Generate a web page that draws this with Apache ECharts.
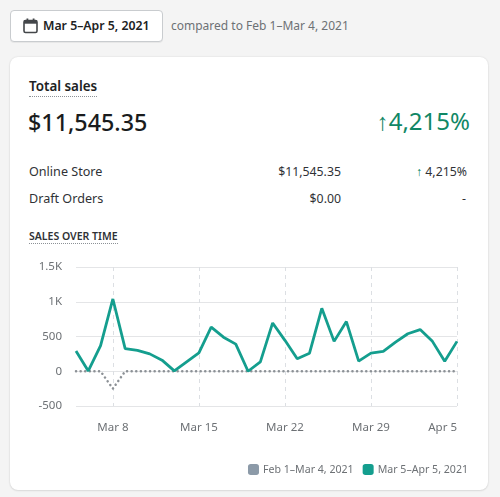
<!DOCTYPE html>
<html>
<head>
<meta charset="utf-8">
<script src="https://cdn.jsdelivr.net/npm/echarts@6/dist/echarts.min.js"></script>
<style>
  html,body{margin:0;padding:0;}
  body{width:500px;height:497px;background:#f4f4f4;font-family:"Noto Sans","Open Sans",sans-serif;position:relative;overflow:hidden;color:#202223;}
  .btn{position:absolute;left:10px;top:10px;width:151px;height:30px;background:#fff;border:1px solid #c9cccf;border-radius:4px;box-shadow:0 1px 0 rgba(0,0,0,0.05);}
  .btn .txt{position:absolute;left:32px;top:6px;font-size:12.3px;font-weight:600;color:#202223;}
  .cmp{position:absolute;left:171px;top:17px;font-size:12px;color:#6d7175;}
  .card{position:absolute;left:10px;top:57px;width:478px;height:433px;background:#fff;border-radius:8px;box-shadow:0 0 2px rgba(0,0,0,0.12),0 1px 2px rgba(0,0,0,0.08);}
  .abs{position:absolute;white-space:nowrap;}
  .ul{border-bottom:1px dotted #8c9196;}
</style>
</head>
<body>
<div class="btn">
  <svg class="abs" style="left:12px;top:7px" width="15" height="16" viewBox="0 0 15 16">
    <rect x="1" y="2.5" width="13" height="12" rx="1.5" fill="none" stroke="#44474a" stroke-width="1.6"/>
    <rect x="1" y="2.5" width="13" height="3.2" fill="#44474a"/>
    <rect x="3.5" y="0.5" width="1.8" height="3" fill="#44474a"/>
    <rect x="9.7" y="0.5" width="1.8" height="3" fill="#44474a"/>
  </svg>
  <div class="txt abs">Mar 5–Apr 5, 2021</div>
</div>
<div class="cmp abs">compared to Feb 1–Mar 4, 2021</div>
<div class="card"></div>
<div class="abs ul" style="left:29px;top:77px;font-size:13.4px;font-weight:600;line-height:18px;padding-bottom:1px;">Total sales</div>
<div class="abs" style="left:28px;top:105px;font-size:23.3px;font-weight:500;line-height:34px;color:#1a1c1d;">$11,545.35</div>
<div class="abs" style="right:30px;top:104px;font-size:24px;line-height:34px;color:#108765;">↑4,215%</div>
<div class="abs" style="left:29px;top:163px;font-size:12.6px;color:#303236;">Online Store</div>
<div class="abs" style="right:159px;top:163px;font-size:12.3px;color:#303236;">$11,545.35</div>
<div class="abs" style="right:33px;top:163px;font-size:12.3px;color:#303236;"><span style="color:#108765">↑</span> 4,215%</div>
<div class="abs" style="left:29px;top:190px;font-size:12.6px;color:#303236;">Draft Orders</div>
<div class="abs" style="right:159px;top:190px;font-size:12.3px;color:#303236;">$0.00</div>
<div class="abs" style="right:34px;top:190px;font-size:12.3px;color:#303236;">-</div>
<div class="abs ul" style="left:29px;top:229px;font-size:10.5px;font-weight:600;line-height:14px;color:#303236;">SALES OVER TIME</div>
<div id="chart" style="position:absolute;left:0;top:0;width:500px;height:497px;"></div>
<script>
const categories = ["Mar 5","Mar 6","Mar 7","Mar 8","Mar 9","Mar 10","Mar 11","Mar 12","Mar 13","Mar 14","Mar 15","Mar 16","Mar 17","Mar 18","Mar 19","Mar 20","Mar 21","Mar 22","Mar 23","Mar 24","Mar 25","Mar 26","Mar 27","Mar 28","Mar 29","Mar 30","Mar 31","Apr 1","Apr 2","Apr 3","Apr 4","Apr 5"];
const currentSales = [290,5,370,1040,325,300,250,160,5,135,265,635,490,390,0,135,695,445,180,260,905,430,715,145,260,285,420,540,600,430,145,430];
const previousSales = [0,0,0,-250,0,0,0,0,0,0,0,0,0,0,0,0,0,0,0,0,0,0,0,0,0,0,0,0,0,0,0,0];
const yTickLabels = {"-500":"-500","0":"0","500":"500","1000":"1K","1500":"1.5K"};
const seriesNames = ["Feb 1–Mar 4, 2021","Mar 5–Apr 5, 2021"];

const chart = echarts.init(document.getElementById('chart'), null, {renderer:'canvas'});
const weekly = (i) => (i - 3) % 7 === 0;
chart.setOption({
  animation:false,
  textStyle:{fontFamily:'"Noto Sans","Open Sans",sans-serif'},
  grid:{left:76,right:43,top:267,bottom:91,containLabel:false},
  legend:{
    right:27,top:459,itemWidth:11,itemHeight:11,itemGap:9,
    icon:'roundRect',
    textStyle:{color:'#6d7175',fontSize:10.6,padding:[0,0,0,-1]},
    data:[{name:seriesNames[0],itemStyle:{color:'#8c9aa8'}},{name:seriesNames[1],itemStyle:{color:'#149e8e'}}]
  },
  xAxis:{
    type:'category',boundaryGap:false,data:categories,
    axisLine:{show:false},axisTick:{show:false},
    axisLabel:{interval:(i)=>weekly(i),color:'#6d7175',fontSize:11.5,margin:16,alignMaxLabel:'right'},
    splitLine:{show:true,interval:(i)=>weekly(i),lineStyle:{color:'#dcdfe3',type:[4,4],width:1}}
  },
  yAxis:{
    type:'value',min:-500,max:1500,interval:500,
    axisLine:{show:false},axisTick:{show:false},
    axisLabel:{color:'#6d7175',fontSize:11.5,margin:14,formatter:(v)=>yTickLabels[String(v)]},
    splitLine:{lineStyle:{color:'#e4e5e7',width:1}}
  },
  series:[
    {name:seriesNames[0],type:'line',data:previousSales,symbol:'none',z:2,
     itemStyle:{color:'#8c9aa8'},
     lineStyle:{color:'#8c9196',width:2.5,type:[0.1,4.5],cap:'round'}},
    {name:seriesNames[1],type:'line',data:currentSales,symbol:'none',z:3,
     itemStyle:{color:'#149e8e'},
     lineStyle:{color:'#149e8e',width:2.8}}
  ]
});
</script>
</body>
</html>
